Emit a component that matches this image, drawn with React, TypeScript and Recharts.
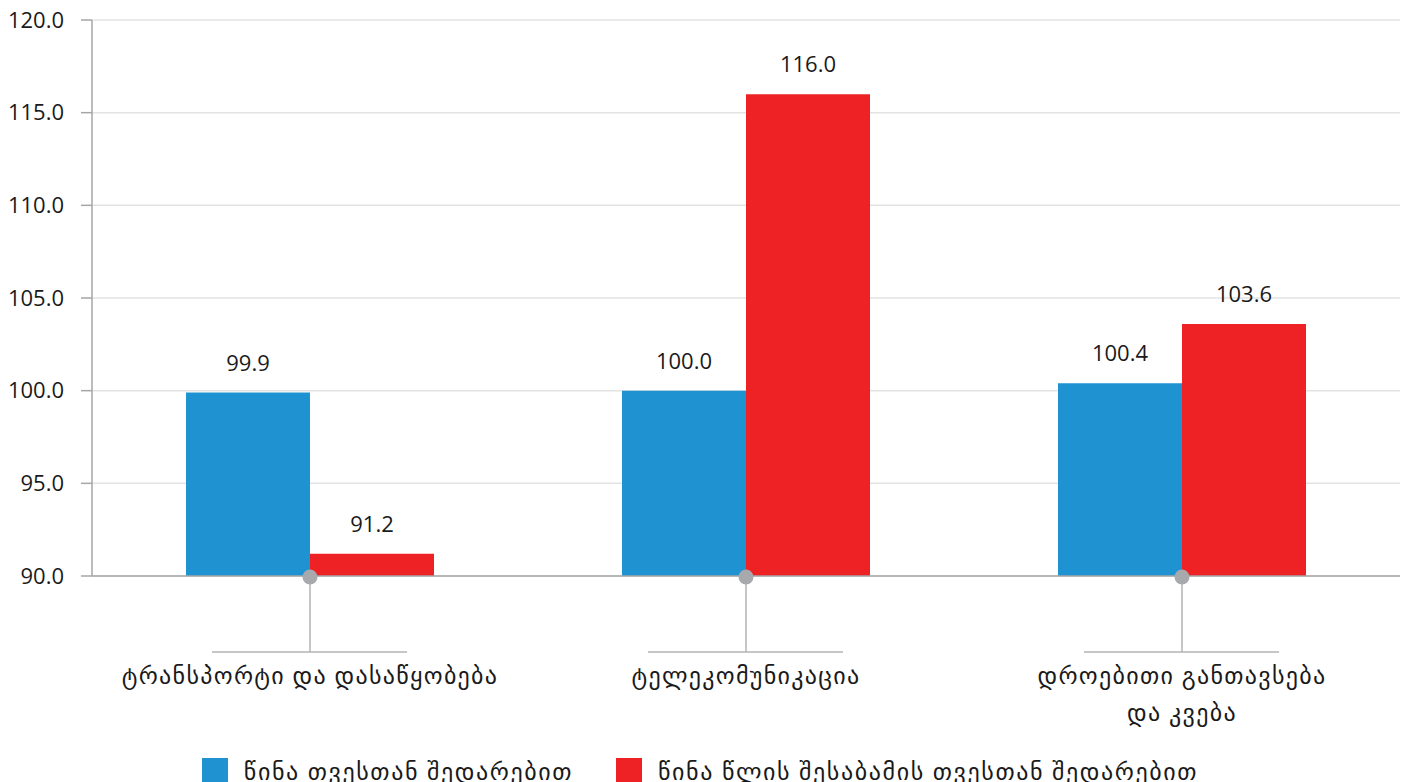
import React from "react";
import {
  BarChart,
  Bar,
  XAxis,
  YAxis,
  CartesianGrid,
  Legend,
  LabelList,
} from "recharts";

// კატეგორიები და სერიები
const categories = [
  "ტრანსპორტი და დასაწყობება",
  "ტელეკომუნიკაცია",
  "დროებითი განთავსება\nდა კვება",
];
const prevMonth = [99.9, 100.0, 100.4];
const prevYearMonth = [91.2, 116.0, 103.6];
const yTicks = [90, 95, 100, 105, 110, 115, 120];

const seriesNames = [
  "წინა თვესთან შედარებით",
  "წინა წლის შესაბამის თვესთან შედარებით",
];
const BLUE = "#1f93d1";
const RED = "#ee2224";
const FONT = "'Open Sans', 'DejaVu Sans', sans-serif";

const data = categories.map((name, i) => ({
  name,
  prevMonth: prevMonth[i],
  prevYearMonth: prevYearMonth[i],
}));

const CategoryTick = (props: any) => {
  const { x, y, payload } = props;
  const lines = String(payload.value).split("\n");
  return (
    <g>
      <line x1={x} x2={x} y1={y} y2={y + 76} stroke="#b3b3b3" strokeWidth={1.5} />
      <line x1={x - 98} x2={x + 97} y1={y + 76} y2={y + 76} stroke="#b3b3b3" strokeWidth={1.5} />
      <circle cx={x} cy={y + 1} r={7.5} fill="#a7a9ac" />
      {lines.map((l, i) => (
        <text
          key={i}
          x={x}
          y={y + 108 + i * 37}
          textAnchor="middle"
          fontSize={24}
          letterSpacing={1.3}
          fontFamily={FONT}
          fill="#1a1a1a"
        >
          {l}
        </text>
      ))}
    </g>
  );
};

const LegendContent = () => (
  <div
    style={{
      height: 30,
      display: "flex",
      justifyContent: "center",
      alignItems: "flex-start",
      gap: 43,
      paddingTop: 6,
      boxSizing: "border-box",
      fontFamily: FONT,
      fontSize: 24,
      letterSpacing: 1.6,
      color: "#1a1a1a",
    }}
  >
    {seriesNames.map((n, i) => (
      <div key={n} style={{ display: "flex", alignItems: "center", gap: 16 }}>
        <div style={{ width: 26, height: 26, background: i === 0 ? BLUE : RED }} />
        <span style={{ lineHeight: "24px", whiteSpace: "nowrap" }}>{n}</span>
      </div>
    ))}
  </div>
);

export default function App() {
  return (
    <div style={{ position: "absolute", left: 0, top: 0, width: 1408, height: 782, background: "#fff" }}>
      <BarChart
        width={1408}
        height={782}
        data={data}
        margin={{ top: 20, right: 8, bottom: 0, left: 0 }}
        barSize={124}
        barGap={0}
      >
        <CartesianGrid vertical={false} stroke="#e3e3e3" strokeWidth={1.5} />
        <YAxis
          width={92}
          domain={[90, 120]}
          ticks={yTicks}
          interval={0}
          tickFormatter={(v: number) => v.toFixed(1)}
          axisLine={{ stroke: "#a6a6a6", strokeWidth: 1.5 }}
          tickLine={{ stroke: "#a6a6a6", strokeWidth: 1.5 }}
          tickSize={11}
          tickMargin={17}
          tick={{ fontSize: 22, fill: "#1a1a1a", fontFamily: FONT }}
        />
        <Bar dataKey="prevMonth" name={seriesNames[0]} fill={BLUE} isAnimationActive={false}>
          <LabelList
            dataKey="prevMonth"
            position="top"
            offset={22}
            formatter={(v: any) => Number(v).toFixed(1)}
            style={{ fontSize: 22, fill: "#1a1a1a", fontFamily: FONT }}
          />
        </Bar>
        <Bar dataKey="prevYearMonth" name={seriesNames[1]} fill={RED} isAnimationActive={false}>
          <LabelList
            dataKey="prevYearMonth"
            position="top"
            offset={22}
            formatter={(v: any) => Number(v).toFixed(1)}
            style={{ fontSize: 22, fill: "#1a1a1a", fontFamily: FONT }}
          />
        </Bar>
        <XAxis
          dataKey="name"
          height={176}
          interval={0}
          axisLine={{ stroke: "#a6a6a6", strokeWidth: 1.5 }}
          tickLine={false}
          tickSize={0}
          tickMargin={0}
          tick={<CategoryTick />}
        />
        <Legend verticalAlign="bottom" content={<LegendContent />} />
      </BarChart>
    </div>
  );
}
